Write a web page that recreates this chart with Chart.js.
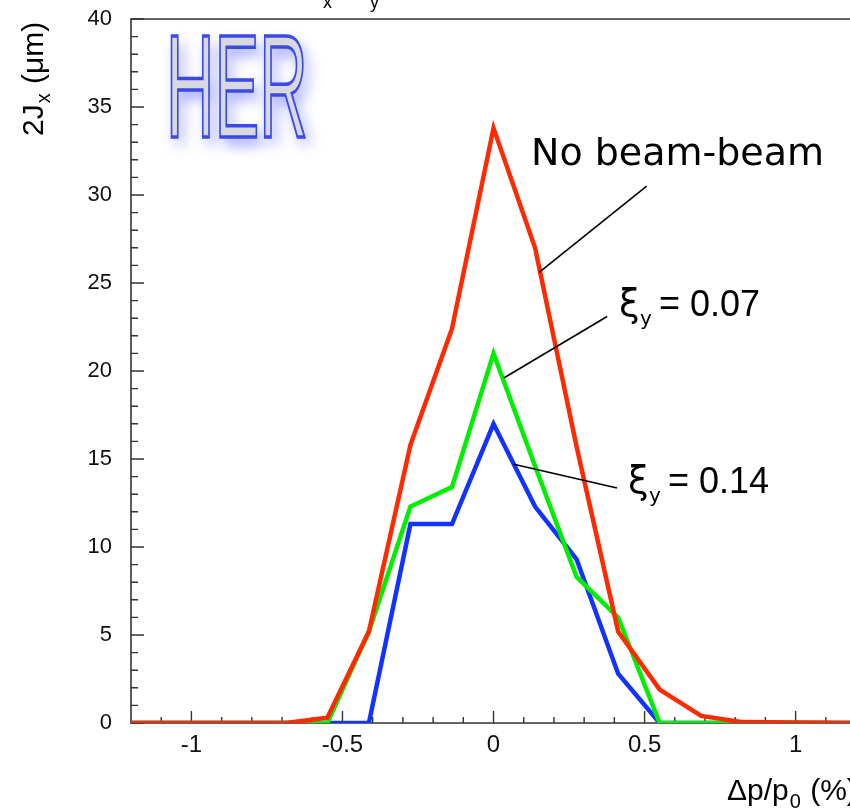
<!DOCTYPE html>
<html>
<head>
<meta charset="utf-8">
<script src="https://cdn.jsdelivr.net/npm/chart.js@4/dist/chart.umd.min.js"></script>
<style>
  html, body { margin: 0; padding: 0; background: #fff; overflow: hidden; }
  #wrap { width: 850px; height: 810px; position: relative; }
</style>
</head>
<body>
<div id="wrap"><canvas id="c"></canvas></div>
<script>
// ---- data ----
const xValues   = [-1.2, -0.6875, -0.55, -0.4125, -0.275, -0.1375, 0, 0.1375, 0.275, 0.4125, 0.55, 0.6875, 0.825, 1.2];
const noBeamBeam = [0, 0, 0.3, 5.2, 15.8, 22.4, 33.8, 27.0, 15.7, 5.2, 1.9, 0.4, 0.05, 0];
const xi007      = [0, 0, 0, 5.2, 12.3, 13.4, 21.0, 14.6, 8.3, 6.0, 0, 0, 0, 0];
const xi014      = [0, 0, 0, 0, 11.3, 11.3, 17.0, 12.3, 9.3, 2.8, 0, 0, 0, 0];
const seriesNames = ['No beam-beam', 'ξy = 0.07', 'ξy = 0.14'];
const xiValues = ['0.07', '0.14'];
const xTickValues = [-1, -0.5, 0, 0.5, 1];
const yTickValues = [0, 5, 10, 15, 20, 25, 30, 35, 40];
const xMin = -1.2, xMax = 1.18;   // right frame edge falls just outside the picture
const xMinorStep = 0.1;
const yMinorStep = 1;
// annotation anchors in data coordinates: [x0,y0,x1,y1]
const leaderNoBB = [0.151, 25.6, 0.507, 30.5];
const leader007  = [0.034, 19.6, 0.376, 23.1];
const leader014  = [0.067, 14.7, 0.409, 13.35];
const labelNoBB  = [0.124, 31.7];
const label007   = [0.415, 23.1];
const label014   = [0.445, 13.05];

const pts = ys => xValues.map((x, i) => ({x: x, y: ys[i]}));

const TICKFONT = '"Liberation Sans", Arial, sans-serif';
const ANNFONT = '"DejaVu Sans", sans-serif';

const framePlugin = {
  id: 'frame',
  beforeDatasetsDraw(chart) {
    const ctx = chart.ctx, a = chart.chartArea;
    const xs = chart.scales.x, ys = chart.scales.y;
    ctx.save();
    ctx.strokeStyle = '#333';
    ctx.lineWidth = 1.6;
    ctx.beginPath();
    ctx.moveTo(chart.width, a.bottom); ctx.lineTo(a.left, a.bottom);
    ctx.lineTo(a.left, a.top); ctx.lineTo(chart.width, a.top);
    ctx.stroke();
    ctx.lineWidth = 1.4;
    ctx.beginPath();
    for (let k = Math.ceil(xs.min / xMinorStep); k <= Math.floor(xs.max / xMinorStep); k++) {
      const v = k * xMinorStep;
      const px = xs.getPixelForValue(v);
      const major = Math.abs(Math.round(v * 2) - v * 2) < 1e-6;
      const len = major ? 12 : 6;
      ctx.moveTo(px, a.bottom); ctx.lineTo(px, a.bottom - len);
    }
    for (let v = ys.min; v <= ys.max; v += yMinorStep) {
      const py = ys.getPixelForValue(v);
      const major = v % 5 === 0;
      const len = major ? 13 : 7;
      ctx.moveTo(a.left, py); ctx.lineTo(a.left + len, py);
    }
    ctx.stroke();
    ctx.restore();
  },
  afterDatasetsDraw(chart) {
    const ctx = chart.ctx;
    const xs = chart.scales.x, ys = chart.scales.y;
    const P = (x, y) => [xs.getPixelForValue(x), ys.getPixelForValue(y)];
    ctx.save();
    ctx.strokeStyle = '#000';
    ctx.lineWidth = 1.6;
    [leaderNoBB, leader007, leader014].forEach(l => {
      const p0 = P(l[0], l[1]), p1 = P(l[2], l[3]);
      ctx.beginPath(); ctx.moveTo(p0[0], p0[1]); ctx.lineTo(p1[0], p1[1]); ctx.stroke();
    });
    ctx.fillStyle = '#000';
    ctx.textBaseline = 'alphabetic';
    ctx.textAlign = 'left';
    let p = P(labelNoBB[0], labelNoBB[1]);
    ctx.font = '38px ' + ANNFONT;
    ctx.fillText(seriesNames[0], p[0], p[1]);
    const xiLabel = (pos, val) => {
      const q = P(pos[0], pos[1]);
      ctx.font = '37px ' + ANNFONT;
      ctx.fillText('ξ', q[0], q[1]);
      ctx.font = '20px ' + ANNFONT;
      ctx.fillText('y', q[0] + 21, q[1] + 9);
      ctx.font = '36px ' + TICKFONT;
      ctx.fillText('=', q[0] + 40, q[1] - 1);
      ctx.fillText(val, q[0] + 71, q[1]);
    };
    xiLabel(label007, xiValues[0]);
    xiLabel(label014, xiValues[1]);
    ctx.restore();
  },
  afterDraw(chart) {
    const ctx = chart.ctx;
    ctx.save();
    ctx.fillStyle = '#000';
    ctx.textAlign = 'left';
    ctx.textBaseline = 'alphabetic';
    ctx.font = '18px ' + TICKFONT;
    ctx.fillText('x', 323, 8);
    ctx.fillText('y', 370, 8);
    // y axis title
    ctx.save();
    ctx.translate(43, 136);
    ctx.rotate(-Math.PI / 2);
    ctx.font = '30px ' + TICKFONT;
    ctx.fillText('2J', 0, 0);
    let w = ctx.measureText('2J').width;
    ctx.font = '20px ' + TICKFONT;
    ctx.fillText('x', w + 1, 7);
    let w2 = ctx.measureText('x').width;
    ctx.font = '30px ' + TICKFONT;
    ctx.fillText(' (μm)', w + w2 + 2, 0);
    ctx.restore();
    // x axis title
    ctx.font = '30px ' + TICKFONT;
    ctx.fillText('Δp/p', 727, 800);
    w = ctx.measureText('Δp/p').width;
    ctx.font = '20px ' + TICKFONT;
    ctx.fillText('0', 727 + w + 1, 808);
    w2 = ctx.measureText('0').width;
    ctx.font = '30px ' + TICKFONT;
    ctx.fillText(' (%)', 727 + w + w2 + 2, 800);
    // HER logo
    ctx.save();
    ctx.translate(166, 137);
    ctx.scale(0.46, 1);
    ctx.font = '146px ' + TICKFONT;
    ctx.shadowColor = 'rgba(70,80,255,0.55)';
    ctx.shadowBlur = 14;
    ctx.shadowOffsetX = 5;
    ctx.shadowOffsetY = 8;
    ctx.fillStyle = '#d8d8e0';
    ctx.fillText('HER', 0, 0);
    ctx.shadowColor = 'transparent';
    ctx.lineWidth = 3.5;
    ctx.strokeStyle = '#3a4ae6';
    ctx.strokeText('HER', 0, 0);
    ctx.restore();
    ctx.restore();
  }
};

new Chart(document.getElementById('c'), {
  type: 'line',
  data: {
    datasets: [
      { label: seriesNames[2], data: pts(xi014), borderColor: '#1233ff', borderWidth: 4.5, pointRadius: 0, tension: 0, order: 3 },
      { label: seriesNames[1], data: pts(xi007), borderColor: '#00ee00', borderWidth: 4.5, pointRadius: 0, tension: 0, order: 2 },
      { label: seriesNames[0], data: pts(noBeamBeam), borderColor: '#ff2a00', borderWidth: 4.5, pointRadius: 0, tension: 0, order: 1 }
    ]
  },
  options: {
    responsive: true,
    maintainAspectRatio: false,
    animation: false,
    layout: { padding: { top: 19, right: 0, left: 0, bottom: 0 } },
    plugins: { legend: { display: false }, tooltip: { enabled: false } },
    scales: {
      x: {
        type: 'linear', min: xMin, max: xMax,
        afterBuildTicks: s => { s.ticks = xTickValues.map(v => ({ value: v })); },
        afterFit: s => { s.height = 87; s.paddingLeft = 0; s.paddingRight = 0; },
        grid: { display: false, drawTicks: false },
        border: { display: false },
        ticks: {
          padding: 8, color: '#111', maxRotation: 0, autoSkip: false,
          font: { family: TICKFONT, size: 24 },
          callback: v => String(v)
        }
      },
      y: {
        type: 'linear', min: 0, max: 40,
        afterBuildTicks: s => { s.ticks = yTickValues.map(v => ({ value: v })); },
        afterFit: s => { s.width = 131; s.paddingTop = 0; s.paddingBottom = 0; },
        grid: { display: false, drawTicks: false },
        border: { display: false },
        ticks: {
          padding: 19, color: '#111', autoSkip: false,
          font: { family: TICKFONT, size: 22 },
          callback: v => String(v)
        }
      }
    }
  },
  plugins: [framePlugin]
});
</script>
</body>
</html>
